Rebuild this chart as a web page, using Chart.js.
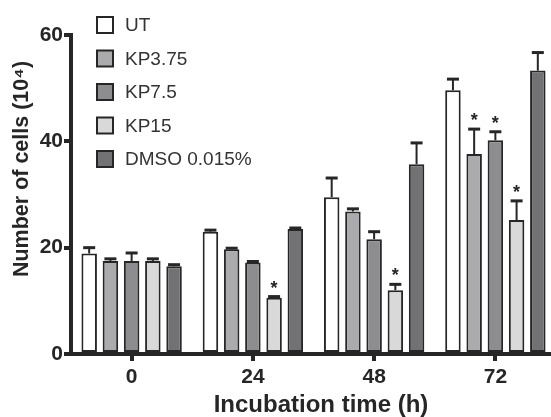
<!DOCTYPE html>
<html>
<head>
<meta charset="utf-8">
<script src="https://cdn.jsdelivr.net/npm/chart.js@4.4.1/dist/chart.umd.min.js"></script>
<style>
  html, body { margin: 0; padding: 0; background: #fff; overflow: hidden; }
  #wrap { width: 556px; height: 417px; }
</style>
</head>
<body>
<div id="wrap"><canvas id="chart" width="556" height="417"></canvas></div>
<script>
const timepoints = ["0", "24", "48", "72"];
const seriesNames = ["UT", "KP3.75", "KP7.5", "KP15", "DMSO 0.015%"];

const utMeans = [18.9, 23.0, 29.5, 49.6];
const utErr = [1.1, 0.3, 3.6, 2.1];
const kp375Means = [17.5, 19.7, 26.8, 37.6];
const kp375Err = [0.4, 0.2, 0.5, 4.7];
const kp75Means = [17.5, 17.2, 21.6, 40.2];
const kp75Err = [1.5, 0.2, 1.4, 1.6];
const kp15Means = [17.5, 10.6, 12.0, 25.2];
const kp15Err = [0.4, 0.2, 1.1, 3.6];
const dmsoMeans = [16.5, 23.5, 35.7, 53.3];
const dmsoErr = [0.3, 0.2, 4.0, 3.4];

// significance markers per series (true = asterisk)
const utStars = [false, false, false, false];
const kp375Stars = [false, false, false, true];
const kp75Stars = [false, false, false, true];
const kp15Stars = [false, true, true, true];
const dmsoStars = [false, false, false, false];

const yTicks = [0, 20, 40, 60];
const xTitle = "Incubation time (h)";
const yTitle = "Number of cells (10\u2074)";

const FONT = '"Liberation Sans", Arial, Helvetica, sans-serif';
const INK = "#262626";
const fills = ["#ffffff", "#ababad", "#8d8d8f", "#d9d9da", "#727274"];

const means = [utMeans, kp375Means, kp75Means, kp15Means, dmsoMeans];
const errs = [utErr, kp375Err, kp75Err, kp15Err, dmsoErr];
const stars = [utStars, kp375Stars, kp75Stars, kp15Stars, dmsoStars];

const datasets = seriesNames.map((name, i) => ({
  label: name,
  data: means[i],
  errors: errs[i],
  stars: stars[i],
  backgroundColor: fills[i],
  borderColor: INK,
  borderWidth: 2,
  borderSkipped: false,
  categoryPercentage: 0.875,
  barPercentage: 0.73,
}));

// error bars + asterisks
const errorBarPlugin = {
  id: "errorBars",
  afterDatasetsDraw(chart) {
    const ctx = chart.ctx;
    const y = chart.scales.y;
    ctx.save();
    ctx.strokeStyle = INK;
    ctx.fillStyle = INK;
    chart.data.datasets.forEach((ds, di) => {
      const meta = chart.getDatasetMeta(di);
      meta.data.forEach((bar, j) => {
        const top = y.getPixelForValue(ds.data[j] + ds.errors[j]);
        ctx.lineWidth = 2;
        ctx.beginPath();
        ctx.moveTo(bar.x, bar.y);
        ctx.lineTo(bar.x, top);
        ctx.stroke();
        ctx.lineWidth = 3;
        ctx.beginPath();
        ctx.moveTo(bar.x - 6, top);
        ctx.lineTo(bar.x + 6, top);
        ctx.stroke();
        if (ds.stars[j]) {
          ctx.font = "bold 18px " + FONT;
          ctx.textAlign = "center";
          ctx.textBaseline = "alphabetic";
          ctx.fillText("*", bar.x, top - 3);
        }
      });
    });
    ctx.restore();
  },
};

// legend inside the plot area, top-left, plus axis titles
const boxLegendPlugin = {
  id: "boxLegend",
  afterDraw(chart) {
    const ctx = chart.ctx;
    const x0 = 97, y0 = 25, step = 33.5, size = 16;
    ctx.save();
    chart.data.datasets.forEach((ds, i) => {
      const cy = y0 + i * step;
      ctx.fillStyle = ds.backgroundColor;
      ctx.fillRect(x0, cy - size / 2, size, size);
      ctx.lineWidth = 2;
      ctx.strokeStyle = INK;
      ctx.strokeRect(x0, cy - size / 2, size, size);
      ctx.fillStyle = "#333";
      ctx.font = "19px " + FONT;
      ctx.textAlign = "left";
      ctx.textBaseline = "middle";
      ctx.fillText(ds.label, x0 + 28, cy + 1);
    });

    ctx.fillStyle = INK;
    ctx.textAlign = "center";
    ctx.textBaseline = "middle";
    ctx.font = "bold 24px " + FONT;
    ctx.fillText(xTitle, 321, 405);

    ctx.translate(22, 169);
    ctx.rotate(-Math.PI / 2);
    ctx.font = "bold 21.5px " + FONT;
    ctx.fillText(yTitle, 0, 0);
    ctx.restore();
  },
};

new Chart(document.getElementById("chart"), {
  type: "bar",
  data: { labels: timepoints, datasets: datasets },
  options: {
    responsive: false,
    animation: false,
    layout: { padding: { top: 35, right: 0, bottom: 0, left: 0 } },
    plugins: {
      legend: { display: false },
      tooltip: { enabled: false },
    },
    scales: {
      x: {
        afterFit: (s) => { s.height = 63; },
        grid: {
          offset: false,
          drawOnChartArea: false,
          drawTicks: true,
          tickLength: 7,
          lineWidth: 4,
          color: INK,
        },
        border: { display: true, width: 4, color: INK },
        ticks: {
          color: INK,
          font: { family: FONT, size: 21, weight: "bold" },
          padding: 4,
        },
      },
      y: {
        min: 0,
        max: 60,
        afterFit: (s) => { s.width = 71; },
        afterBuildTicks: (s) => { s.ticks = yTicks.map((v) => ({ value: v })); },
        grid: {
          drawOnChartArea: false,
          drawTicks: true,
          tickLength: 7,
          lineWidth: 4,
          color: INK,
        },
        border: { display: true, width: 4, color: INK },
        ticks: {
          color: INK,
          font: { family: FONT, size: 21, weight: "bold" },
          padding: 1,
        },
      },
    },
  },
  plugins: [errorBarPlugin, boxLegendPlugin],
});
</script>
</body>
</html>
